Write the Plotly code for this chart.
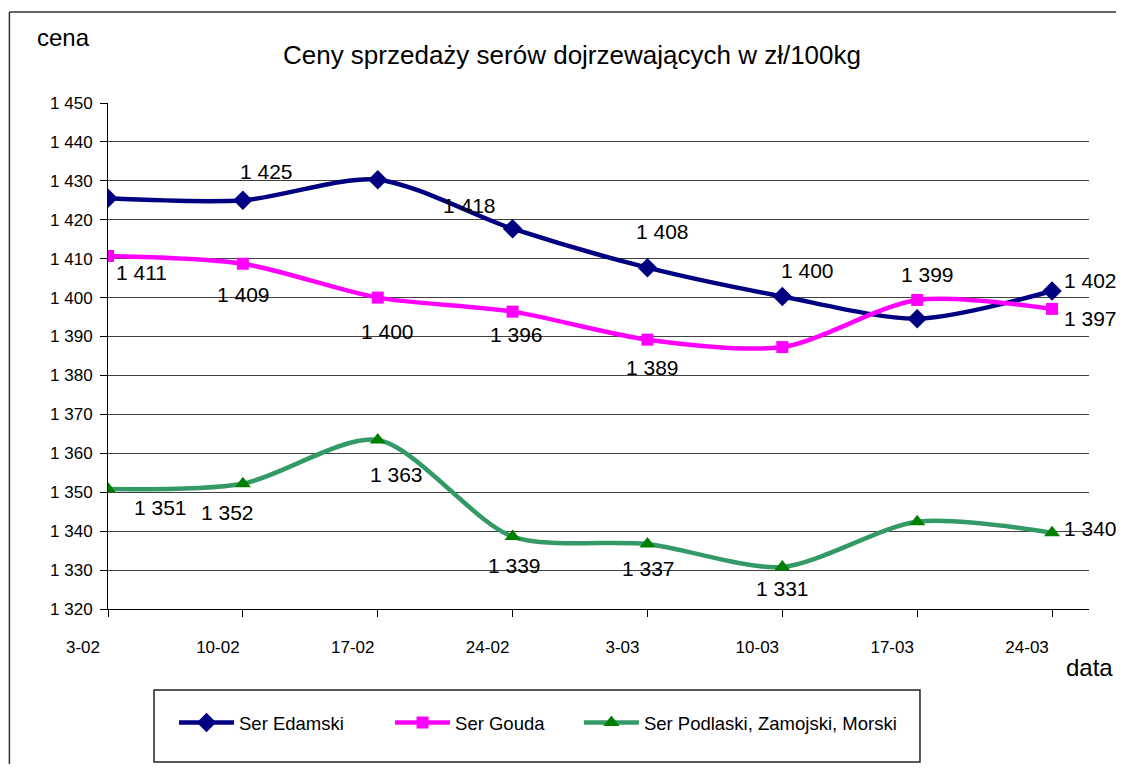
import plotly.graph_objects as go

dates = ['3-02', '10-02', '17-02', '24-02', '3-03', '10-03', '17-03', '24-03']
edamski = [1425.5, 1425.0, 1430.3, 1417.7, 1407.7, 1400.3, 1394.6, 1401.7]
gouda = [1410.7, 1408.7, 1400.0, 1396.4, 1389.2, 1387.3, 1399.4, 1397.1]
podlaski = [1350.8, 1352.2, 1363.4, 1338.6, 1336.7, 1330.8, 1342.4, 1339.6]

FONT = 'Arial, Liberation Sans, sans-serif'

# label offsets in px from marker (dx, dy down); None = no label shown
lab_edam = [None, (24, -29), None, (-43, -23), (15, -36), (25, -26), None, (38, -11)]
lab_gouda = [(33, 17), (1, 31), (10, 34), (4, 23), (5, 28), None, (10, -25), (38, 10)]
lab_podl = [(52, 18), (-15, 29), (19, 34), (2, 29), (1, 24), (0, 22), None, (38, -4)]

x = list(range(len(dates)))

fig = go.Figure()
fig.add_trace(go.Scatter(
    x=x, y=edamski, name='Ser Edamski', mode='lines+markers', legend='legend',
    line=dict(color='#000080', width=4.5, shape='spline', smoothing=0.8),
    marker=dict(symbol='diamond', size=15, color='#000080')))
fig.add_trace(go.Scatter(
    x=x, y=gouda, name='Ser Gouda', mode='lines+markers', legend='legend2',
    line=dict(color='#FF00FF', width=4.5, shape='spline', smoothing=0.8),
    marker=dict(symbol='square', size=12, color='#FF00FF')))
fig.add_trace(go.Scatter(
    x=x, y=podlaski, name='Ser Podlaski, Zamojski, Morski', mode='lines+markers',
    legend='legend3',
    line=dict(color='#339966', width=4.5, shape='spline', smoothing=0.8),
    marker=dict(symbol='triangle-up', size=14, color='#008000')))

annotations = []
for vals, labs in [(edamski, lab_edam), (gouda, lab_gouda), (podlaski, lab_podl)]:
    for i, (v, off) in enumerate(zip(vals, labs)):
        if off is None:
            continue
        annotations.append(dict(
            x=i, y=v, xref='x', yref='y', showarrow=False,
            text=f"{round(v):,}".replace(',', ' '),
            xshift=off[0], yshift=-off[1],
            font=dict(family=FONT, size=21, color='black')))

annotations.append(dict(text='cena', xref='paper', yref='paper', x=-0.0744, y=1.1285,
                        xanchor='left', yanchor='middle', showarrow=False,
                        font=dict(family=FONT, size=24, color='black')))
annotations.append(dict(text='data', xref='paper', yref='paper', x=1.027, y=-0.1166,
                        xanchor='right', yanchor='middle', showarrow=False,
                        font=dict(family=FONT, size=24, color='black')))


def leg(xpos):
    return dict(orientation='h', x=xpos, y=-0.2253, xanchor='left', yanchor='middle',
                font=dict(family=FONT, size=18.5, color='black'),
                bgcolor='rgba(0,0,0,0)', borderwidth=0, itemwidth=55)


fig.update_layout(
    width=1108, height=756,
    margin=dict(l=100, r=27, t=95, b=155),
    paper_bgcolor='white', plot_bgcolor='white',
    separators=', ',
    title=dict(text='Ceny sprzedaży serów dojrzewających w zł/100kg',
               x=0.509, y=0.9378, xanchor='center', yanchor='middle',
               font=dict(family=FONT, size=26, color='black')),
    font=dict(family=FONT, color='black'),
    annotations=annotations,
    showlegend=True,
    legend=leg(0.0673), legend2=leg(0.2875), legend3=leg(0.480),
    shapes=[
        # legend frame
        dict(type='rect', xref='paper', yref='paper', x0=0.0469, x1=0.8277,
             y0=-0.3024, y1=-0.16, line=dict(color='#222', width=1.5)),
        # outer chart frame (only top and left edges are visible)
        dict(type='line', xref='paper', yref='paper', x0=-0.1005, x1=1.2,
             y0=1.1798, y1=1.1798, line=dict(color='#333', width=1.5)),
        dict(type='line', xref='paper', yref='paper', x0=-0.1005, x1=-0.1005,
             y0=-0.5, y1=1.1798, line=dict(color='#333', width=1.5)),
    ],
)

fig.update_xaxes(
    range=[0, 7.274], tickmode='array', tickvals=x, ticktext=dates,
    showgrid=False, showline=True, linecolor='black', linewidth=1,
    ticks='outside', ticklen=7, tickcolor='black',
    ticklabelshift=-25, ticklabelstandoff=16,
    tickfont=dict(family=FONT, size=17, color='black'), zeroline=False)
fig.update_yaxes(
    range=[1320, 1450], dtick=10, tickformat=',d',
    showgrid=True, gridcolor='#404040', gridwidth=1,
    showline=True, linecolor='black', linewidth=1,
    ticks='outside', ticklen=7, tickcolor='black', ticklabelstandoff=4,
    tickfont=dict(family=FONT, size=17, color='black'), zeroline=False)

fig.write_html("out.html")
